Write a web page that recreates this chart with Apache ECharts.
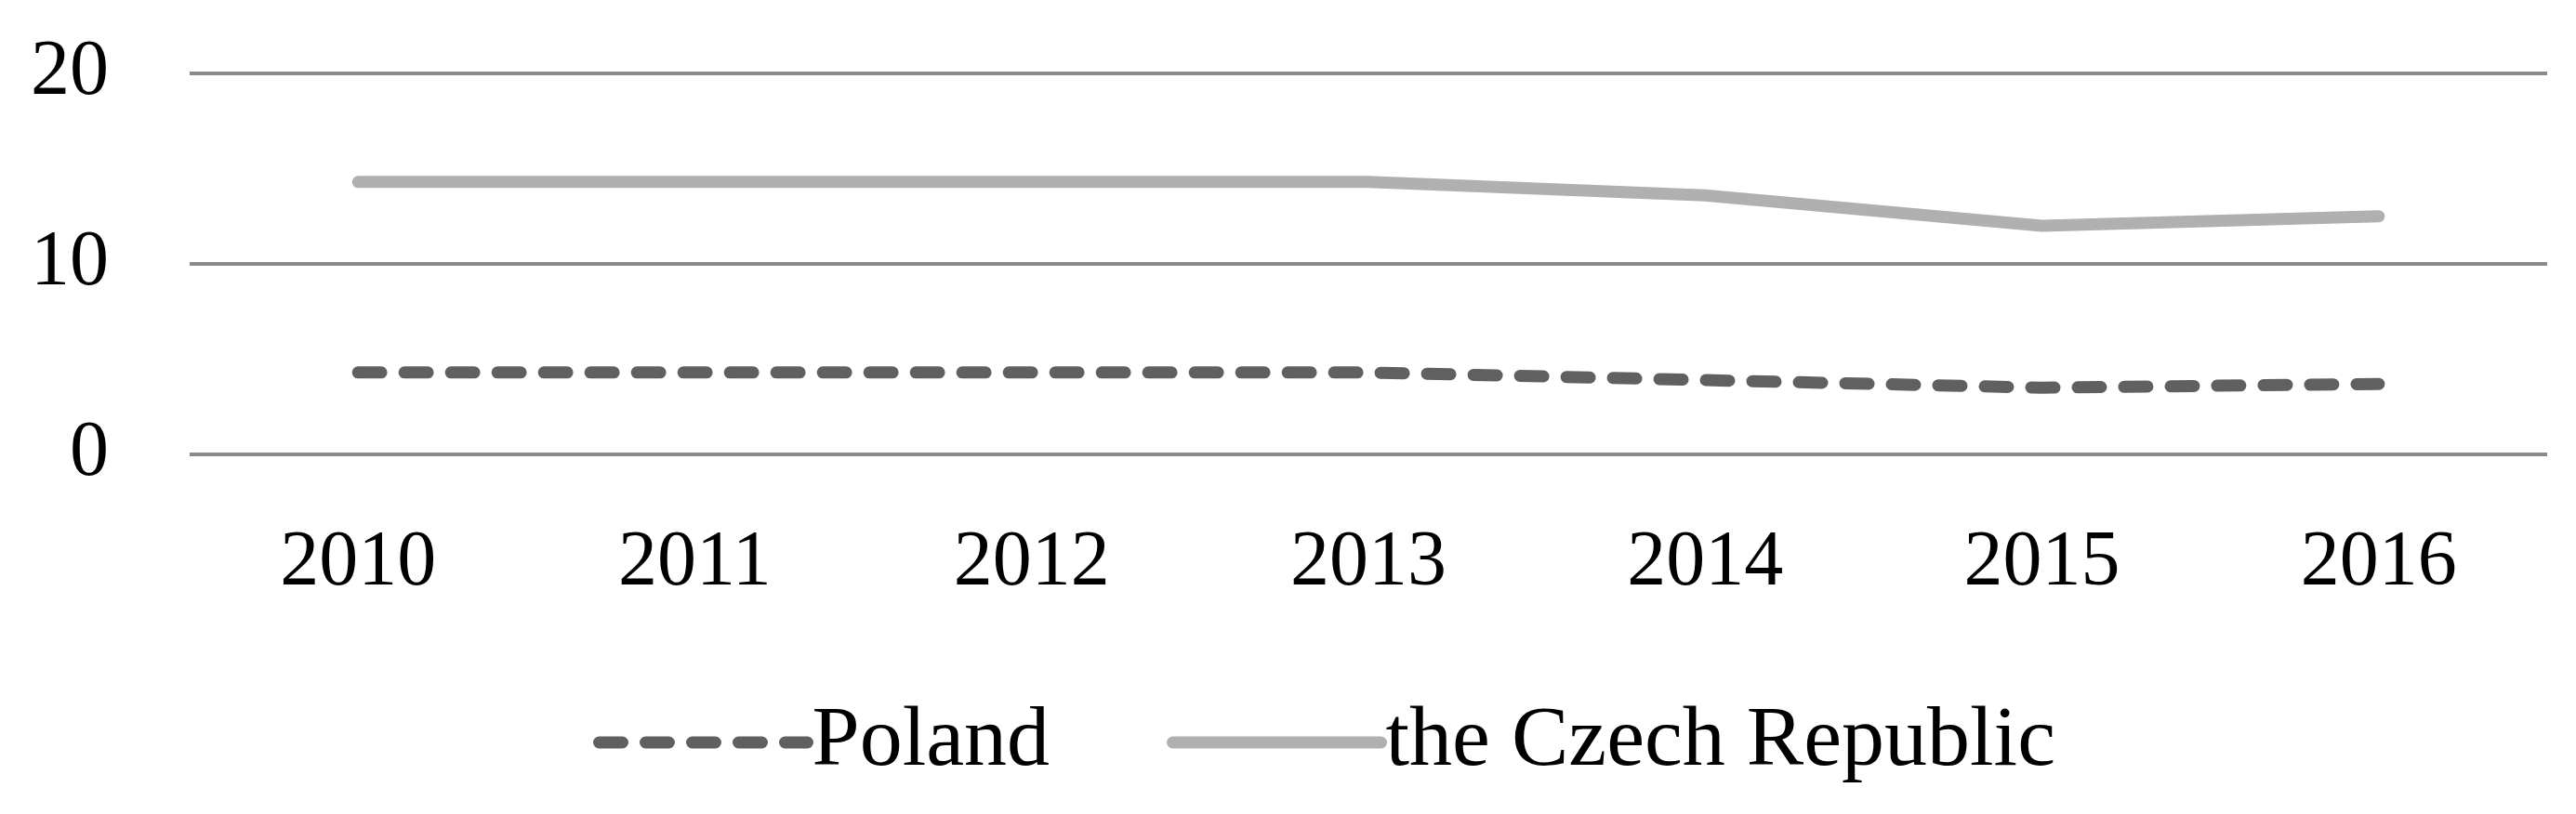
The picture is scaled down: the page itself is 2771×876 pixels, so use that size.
<!DOCTYPE html>
<html>
<head>
<meta charset="utf-8">
<script src="https://cdn.jsdelivr.net/npm/echarts@6/dist/echarts.min.js"></script>
<style>
  html, body { margin: 0; padding: 0; background: #fff; }
  #main { width: 2771px; height: 876px; }
</style>
</head>
<body>
<div id="main"></div>
<script>
// data
var years = ['2010', '2011', '2012', '2013', '2014', '2015', '2016'];
var poland = [4.3, 4.3, 4.3, 4.3, 3.9, 3.5, 3.7];
var czech = [14.3, 14.3, 14.3, 14.3, 13.6, 12.0, 12.5];

var font = 'Liberation Serif';

var myChart = echarts.init(document.getElementById('main'));

var option = {
  backgroundColor: '#ffffff',
  animation: false,
  grid: { left: 204, right: 31, top: 79, bottom: 387 },
  legend: {
    bottom: 26,
    left: 633,
    itemWidth: 224,
    itemHeight: 14,
    itemGap: 126,
    itemStyle: { opacity: 0 },
    lineStyle: { width: 13, cap: 'round' },
    textStyle: { fontFamily: font, fontSize: 92, color: '#000' },
    data: ['Poland', 'the Czech Republic']
  },
  xAxis: {
    type: 'category',
    data: years,
    axisLine: { show: false },
    axisTick: { show: false },
    axisLabel: { fontFamily: font, fontSize: 84, color: '#000', margin: 76 }
  },
  yAxis: {
    type: 'value',
    min: 0,
    max: 20,
    interval: 10,
    axisLine: { show: false },
    axisTick: { show: false },
    axisLabel: { fontFamily: font, fontSize: 84, color: '#000', margin: 87 },
    splitLine: { lineStyle: { color: '#8a8a8a', width: 4 } }
  },
  series: [
    {
      name: 'Poland',
      type: 'line',
      data: poland,
      symbol: 'none',
      lineStyle: { color: '#606060', width: 13, type: [25, 25], cap: 'round' },
      itemStyle: { color: '#606060' }
    },
    {
      name: 'the Czech Republic',
      type: 'line',
      data: czech,
      symbol: 'none',
      lineStyle: { color: '#b0b0b0', width: 13, cap: 'round' },
      itemStyle: { color: '#b0b0b0' }
    }
  ]
};

myChart.setOption(option);

window.onresize = () => {
  myChart.resize()
}
</script>
</body>
</html>
